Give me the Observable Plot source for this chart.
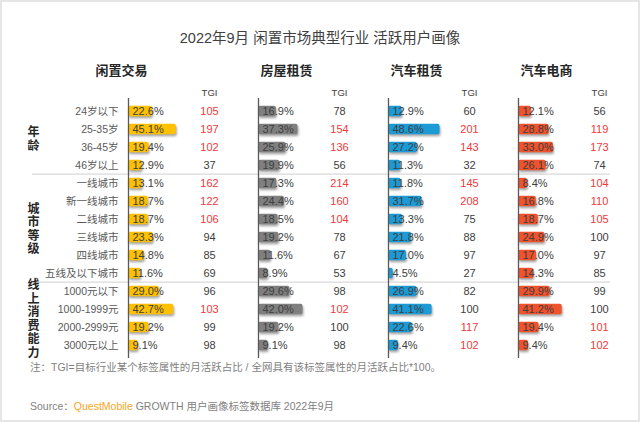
<!DOCTYPE html>
<html><head><meta charset="utf-8">
<script src="https://cdn.jsdelivr.net/npm/d3@7"></script>
<script src="https://cdn.jsdelivr.net/npm/@observablehq/plot@0.6"></script>
<style>
body{margin:0;background:#fff;}
#wrap{position:relative;width:640px;height:422px;background:#fff;overflow:hidden;font-family:"Liberation Sans","Noto Sans CJK SC",sans-serif;}
#frame{position:absolute;left:0;top:0;right:0;bottom:0;border:2px solid #e6e6e6;pointer-events:none;z-index:5;}
#title{position:absolute;top:28px;left:0;width:640px;text-align:center;font-size:14.5px;line-height:20px;color:#404040;}
#chart{position:absolute;top:48px;left:0;}
#note{position:absolute;top:360px;left:30px;font-size:10.5px;line-height:14px;color:#7f7f7f;white-space:nowrap;}
#source{position:absolute;top:399px;left:30px;font-size:10.5px;line-height:14px;color:#7f7f7f;white-space:nowrap;}
#source .qm{color:#f5a623;}
g[aria-label="bar"] rect{filter:drop-shadow(1.5px 2px 1.2px rgba(0,0,0,0.35));}
</style></head>
<body>
<div id="wrap">
  <div id="title">2022年9月 闲置市场典型行业 活跃用户画像</div>
  <div id="chart"></div>
  <div id="note">注：TGI=目标行业某个标签属性的月活跃占比 / 全网具有该标签属性的月活跃占比*100。</div>
  <div id="source">Source：<span class="qm">QuestMobile</span> GROWTH 用户画像标签数据库 2022年9月</div>
  <div id="frame"></div>
</div>
<script>
// ---- data ----
const rows = ["24岁以下","25-35岁","36-45岁","46岁以上","一线城市","新一线城市","二线城市","三线城市","四线城市","五线及以下城市","1000元以下","1000-1999元","2000-2999元","3000元以上"];
const groupNames = ["年龄","城市等级","线上消费能力"];
const groupSizes = [4, 6, 4];
const industries = ["闲置交易","房屋租赁","汽车租赁","汽车电商"];
const industryColors = ["#ffc000","#7f7f7f","#1b9ad6","#f0522b"];

const shareXianzhi   = [22.6,45.1,19.4,12.9,13.1,18.7,18.7,23.3,14.8,11.6,29.0,42.7,19.2,9.1];
const tgiXianzhi     = [105,197,102,37,162,122,106,94,85,69,96,103,99,98];
const shareFangwu    = [16.9,37.3,25.9,19.9,17.3,24.4,18.5,19.2,11.6,8.9,29.6,42.0,19.2,9.1];
const tgiFangwu      = [78,154,136,56,214,160,104,78,67,53,98,102,100,98];
const shareZuche     = [12.9,48.6,27.2,11.3,11.8,31.7,13.3,21.8,17.0,4.5,26.9,41.1,22.6,9.4];
const tgiZuche       = [60,201,143,32,145,208,75,88,97,27,82,100,117,102];
const shareDianshang = [12.1,28.8,33.0,26.1,8.4,16.8,18.7,24.9,17.0,14.3,29.9,41.2,19.4,9.4];
const tgiDianshang   = [56,119,173,74,104,110,105,100,97,85,99,100,101,102];

// ---- build tables ----
const LABEL = "标签";
const shares = [shareXianzhi, shareFangwu, shareZuche, shareDianshang];
const tgis = [tgiXianzhi, tgiFangwu, tgiZuche, tgiDianshang];
const table = industries.flatMap((p, k) => rows.map((r, i) => ({panel: p, row: r, share: shares[k][i], tgi: tgis[k][i]})));
const labelRows = rows.map(r => ({panel: LABEL, row: r}));
let start = 0;
const groups = groupNames.map((g, j) => {
  const d = {panel: LABEL, row: rows[start + Math.floor((groupSizes[j] - 1) / 2)], text: [...g].join("\n"), first: rows[start]};
  start += groupSizes[j];
  return d;
});
const sepRows = groups.slice(1).map(d => d.first);
const fxDomain = [LABEL, ...industries];
const sepData = fxDomain.flatMap(p => sepRows.map(r => ({panel: p, row: r})));
const panels = industries.map(p => ({panel: p}));

const H = 312, MT = 50, MB = 2;
const band = (H - MT - MB) / rows.length;
const red = "#ee3a3a", dark = "#404040";
const font = '"Liberation Sans","Noto Sans CJK SC",sans-serif';

const chart = Plot.plot({
  width: 640, height: H,
  marginTop: MT, marginBottom: MB, marginLeft: 0, marginRight: 0,
  style: {fontFamily: font, background: "transparent"},
  fx: {domain: fxDomain, range: [-2, 648], padding: 0, axis: null},
  x: {domain: [0, 122.6], axis: null},
  y: {domain: rows, padding: 0, axis: null},
  color: {domain: industries, range: industryColors},
  marks: [
    Plot.ruleY(sepData.filter(d => d.panel === LABEL), {fx: "panel", y: "row", dy: -band / 2, insetLeft: 34, stroke: "#d9d9d9", strokeWidth: 1.3}),
    Plot.ruleY(sepData.filter(d => d.panel !== LABEL && d.panel !== industries[3]), {fx: "panel", y: "row", dy: -band / 2, stroke: "#d9d9d9", strokeWidth: 1.3}),
    Plot.ruleY(sepData.filter(d => d.panel === industries[3]), {fx: "panel", y: "row", dy: -band / 2, insetRight: 38, stroke: "#d9d9d9", strokeWidth: 1.3}),
    Plot.barX(table, {fx: "panel", y: "row", x: "share", fill: "panel", insetTop: 3.8, insetBottom: 3.8, rx: 2}),
    Plot.ruleX(panels, {fx: "panel", x: 0, stroke: "#595959", strokeWidth: 1.3}),
    Plot.text(table, {fx: "panel", y: "row", frameAnchor: "left", dx: 4, textAnchor: "start", text: d => d.share.toFixed(1) + "%", fill: dark, fontSize: 11}),
    Plot.text(table.filter(d => d.tgi > 100), {fx: "panel", y: "row", frameAnchor: "left", dx: 81, textAnchor: "middle", text: "tgi", fill: red, fontSize: 11}),
    Plot.text(table.filter(d => d.tgi <= 100), {fx: "panel", y: "row", frameAnchor: "left", dx: 81, textAnchor: "middle", text: "tgi", fill: dark, fontSize: 11}),
    Plot.text(labelRows, {fx: "panel", y: "row", frameAnchor: "right", dx: -10, textAnchor: "end", text: "row", fill: "#595959", fontSize: 10.5}),
    Plot.text(groups, {fx: "panel", y: "row", dy: band / 2, frameAnchor: "left", dx: 35, textAnchor: "middle", lineAnchor: "middle", lineHeight: 1.12, text: "text", fill: "#262626", fontSize: 12, fontWeight: "bold"}),
    Plot.text(panels.slice(0, 1), {fx: "panel", text: "panel", frameAnchor: "top-left", dx: -7, dy: -33, textAnchor: "middle", fill: "#262626", fontSize: 13, fontWeight: 600}),
    Plot.text(panels.slice(1), {fx: "panel", text: "panel", frameAnchor: "top-left", dx: 2, dy: -33, textAnchor: "start", fill: "#262626", fontSize: 13, fontWeight: 600}),
    Plot.text(panels, {fx: "panel", text: () => "TGI", frameAnchor: "top-left", dx: 81, dy: -9, textAnchor: "middle", fill: dark, fontSize: 9.5})
  ]
});
document.getElementById("chart").appendChild(chart);
</script>
</body></html>
